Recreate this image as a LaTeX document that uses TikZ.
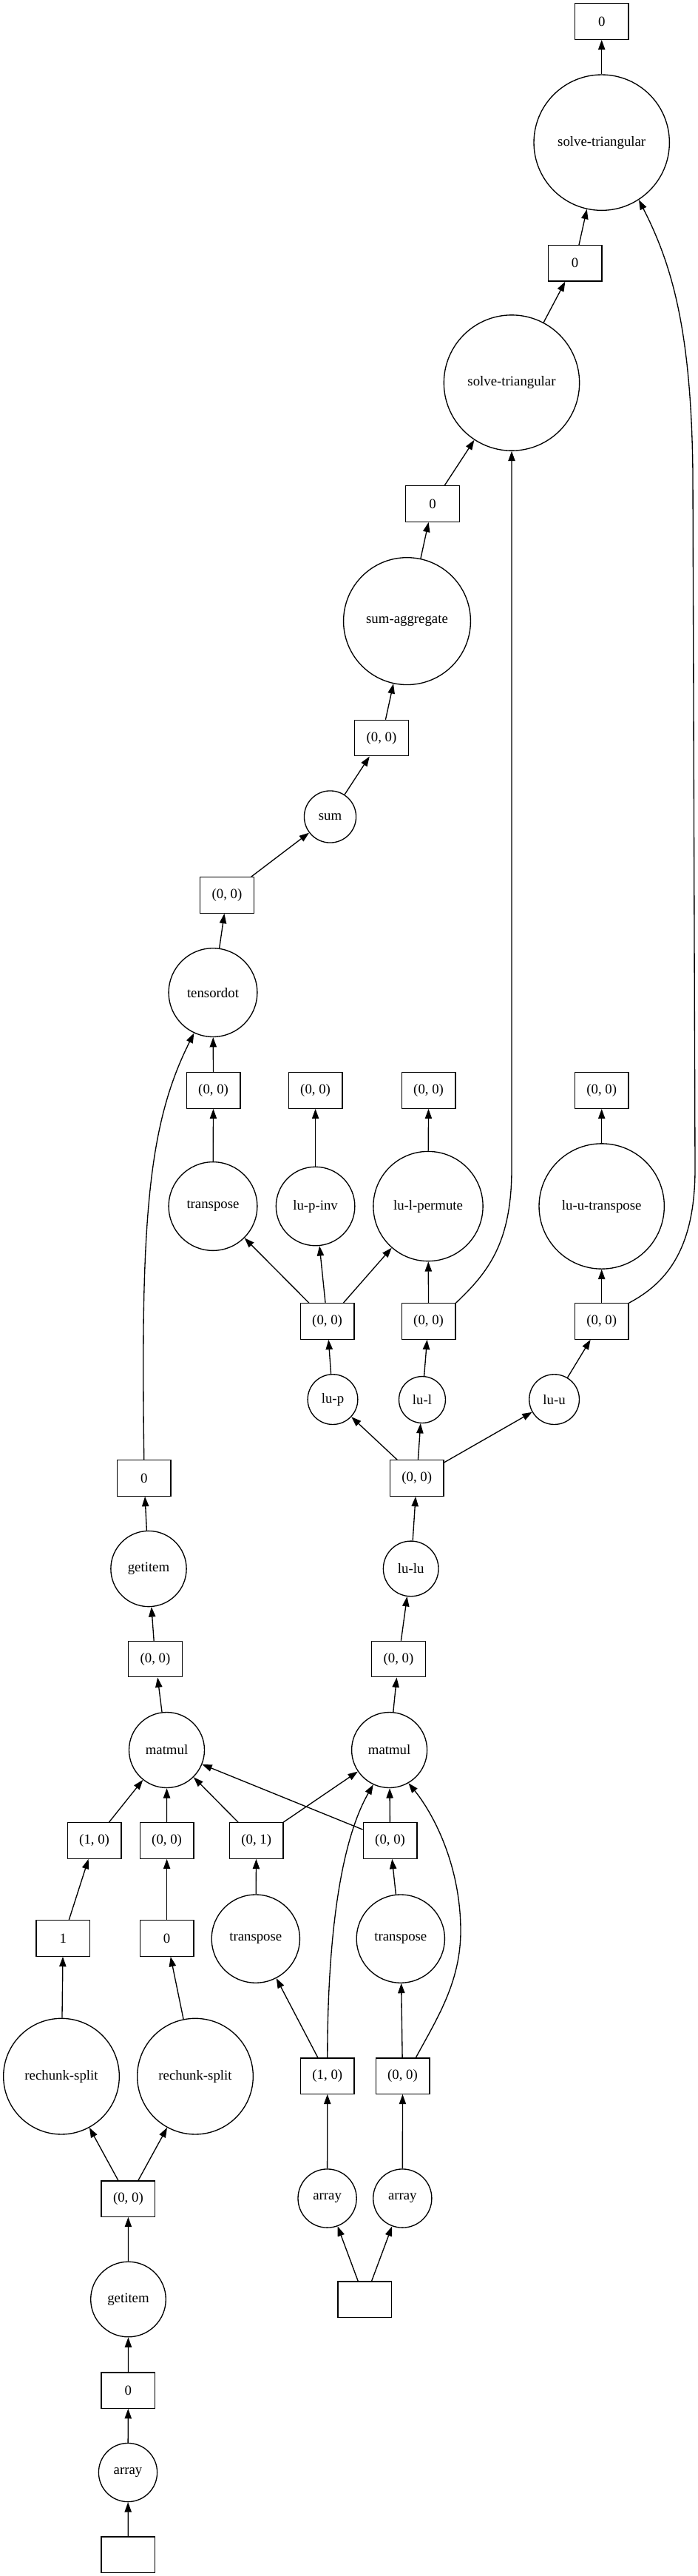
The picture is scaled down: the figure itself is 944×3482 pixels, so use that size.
\documentclass[tikz,border=0pt]{standalone}
\usepackage{fontspec}
\setmainfont{Liberation Serif}
\usetikzlibrary{arrows.meta}
\begin{document}
\begin{tikzpicture}[x=0.75pt,y=-0.75pt,
  box/.style={draw,rectangle,minimum width=54.5pt,minimum height=36.3pt,inner sep=0pt,line width=1pt,font=\fontsize{14.1pt}{17pt}\selectfont},
  op/.style={draw,circle,minimum size=#1,inner sep=0pt,line width=1pt,font=\fontsize{14.1pt}{17pt}\selectfont},
  edgearrow/.style={-{Triangle[length=10pt,width=7pt]},line width=1pt}]
\useasboundingbox (0,0) rectangle (944,3482);
% nodes
\node[box] (top0) at (813.7,29) {0};
\node[op=137.5pt] (st1) at (813.7,192.7) {solve-triangular};
\node[box] (b2) at (777.5,355.8) {0};
\node[op=137.5pt] (st2) at (692,517.5) {solve-triangular};
\node[box] (b3) at (585,681) {0};
\node[op=128.9pt] (sa) at (550.5,839.6) {sum-aggregate};
\node[box] (b4) at (516,997.6) {(0, 0)};
\node[op=52.6pt] (sum) at (446.5,1104) {sum};
\node[box] (b5) at (307,1210) {(0, 0)};
\node[op=89.8pt] (td) at (288,1341.6) {tensordot};
\node[box] (b6) at (288.6,1474) {(0, 0)};
\node[box] (b7) at (426.6,1474) {(0, 0)};
\node[box] (b8) at (579.6,1474) {(0, 0)};
\node[box] (b9) at (813.7,1474) {(0, 0)};
\node[op=89.8pt] (tr1) at (288,1630.5) {transpose};
\node[op=79.9pt] (lupinv) at (426.6,1630.5) {lu-p-inv};
\node[op=111.2pt] (lulperm) at (579,1630.5) {lu-l-permute};
\node[op=127pt] (lutrans) at (813.7,1630.5) {lu-u-transpose};
\node[box] (b10) at (442.6,1786) {(0, 0)};
\node[box] (b11) at (579.6,1786) {(0, 0)};
\node[box] (b12) at (813.7,1786) {(0, 0)};
\node[op=50.8pt] (lup) at (450,1891.6) {lu-p};
\node[op=47.2pt] (lul) at (571,1892) {lu-l};
\node[op=50.8pt] (luu) at (749.6,1891.6) {lu-u};
\node[box] (b13) at (563.7,1998) {(0, 0)};
\node[box] (b14) at (194.8,1998) {0};
\node[op=76.7pt] (gi1) at (201,2120.5) {getitem};
\node[op=56pt] (lulu) at (555.7,2120.4) {lu-lu};
\node[box] (b15) at (210,2242.6) {(0, 0)};
\node[box] (b16) at (539,2242.6) {(0, 0)};
\node[op=76.5pt] (mm1) at (225.5,2365.5) {matmul};
\node[op=76.5pt] (mm2) at (526.6,2365.5) {matmul};
\node[box] (b17) at (127.6,2488) {(1, 0)};
\node[box] (b18) at (225.6,2488) {(0, 0)};
\node[box] (b19) at (346.7,2488) {(0, 1)};
\node[box] (b20) at (527.6,2488) {(0, 0)};
\node[box] (b21) at (85.3,2620) {1};
\node[box] (b22) at (225.6,2620) {0};
\node[op=89.4pt] (tr2) at (345.8,2620.6) {transpose};
\node[op=89.4pt] (tr3) at (541.8,2620.6) {transpose};
\node[op=117.5pt] (rs1) at (83,2806.6) {rechunk-split};
\node[op=117.5pt] (rs2) at (264,2806.6) {rechunk-split};
\node[box] (b23) at (442.8,2806) {(1, 0)};
\node[box] (b24) at (544.5,2806) {(0, 0)};
\node[box] (b25) at (173.4,2972) {(0, 0)};
\node[op=59.4pt] (ar1) at (442.6,2971.5) {array};
\node[op=59.4pt] (ar2) at (544.3,2971.5) {array};
\node[op=76.2pt] (gi2) at (173.5,3108) {getitem};
\node[box] (b26) at (493.4,3108) {};
\node[box] (b27) at (173.4,3231) {0};
\node[op=59.4pt] (ar3) at (173,3342) {array};
\node[box] (b28) at (173.4,3453) {};
% edges
\draw[edgearrow] (st1) -- (top0);
\draw[edgearrow] (b2) -- (st1);
\draw[edgearrow] (st2) -- (b2);
\draw[edgearrow] (b3) -- (st2);
\draw[edgearrow] (sa) -- (b3);
\draw[edgearrow] (b4) -- (sa);
\draw[edgearrow] (sum) -- (b4);
\draw[edgearrow] (b5) -- (sum);
\draw[edgearrow] (td) -- (b5);
\draw[edgearrow] (b6) -- (td);
\draw[edgearrow] (b14.north) .. controls (190,1650) and (200,1520) .. (td.245);
\draw[edgearrow] (tr1) -- (b6);
\draw[edgearrow] (lupinv) -- (b7);
\draw[edgearrow] (lulperm) -- (b8);
\draw[edgearrow] (lutrans) -- (b9);
\draw[edgearrow] (b10) -- (tr1);
\draw[edgearrow] (b10) -- (lupinv);
\draw[edgearrow] (b10) -- (lulperm);
\draw[edgearrow] (b11) -- (lulperm);
\draw[edgearrow] (b11.north east) .. controls (660,1720) and (692,1680) .. (692,1580) -- (st2.south);
\draw[edgearrow] (b12) -- (lutrans);
\draw[edgearrow] (b12.north east) .. controls (900,1735) and (940,1690) .. (940,1580) -- (937,640) .. controls (935,450) and (910,360) .. (st1.-57);
\draw[edgearrow] (lup) -- (b10);
\draw[edgearrow] (lul) -- (b11);
\draw[edgearrow] (luu) -- (b12);
\draw[edgearrow] (b13) -- (lup);
\draw[edgearrow] (b13) -- (lul);
\draw[edgearrow] (b13) -- (luu);
\draw[edgearrow] (lulu) -- (b13);
\draw[edgearrow] (b16) -- (lulu);
\draw[edgearrow] (mm2) -- (b16);
\draw[edgearrow] (gi1) -- (b14);
\draw[edgearrow] (b15) -- (gi1);
\draw[edgearrow] (mm1) -- (b15);
\draw[edgearrow] (b17) -- (mm1);
\draw[edgearrow] (b18) -- (mm1);
\draw[edgearrow] (b19) -- (mm1);
\draw[edgearrow] (b20) -- (mm1);
\draw[edgearrow] (b19) -- (mm2);
\draw[edgearrow] (b20) -- (mm2);
\draw[edgearrow] (b23.north) .. controls (443,2620) and (460,2490) .. (mm2.245);
\draw[edgearrow] ([xshift=13.5pt]b24.north) .. controls (590,2730) and (623,2680) .. (623,2610) .. controls (623,2520) and (585,2450) .. (mm2.300);
\draw[edgearrow] (b21) -- (b17);
\draw[edgearrow] (b22) -- (b18);
\draw[edgearrow] (tr2) -- (b19);
\draw[edgearrow] (tr3) -- (b20);
\draw[edgearrow] (rs1) -- (b21);
\draw[edgearrow] (rs2) -- (b22);
\draw[edgearrow] (b25) -- (rs1);
\draw[edgearrow] (b25) -- (rs2);
\draw[edgearrow] (b23) -- (tr2);
\draw[edgearrow] (b24) -- (tr3);
\draw[edgearrow] (ar1) -- (b23);
\draw[edgearrow] (ar2) -- (b24);
\draw[edgearrow] (b26) -- (ar1);
\draw[edgearrow] (b26) -- (ar2);
\draw[edgearrow] (gi2) -- (b25);
\draw[edgearrow] (b27) -- (gi2);
\draw[edgearrow] (ar3) -- (b27);
\draw[edgearrow] (b28) -- (ar3);
\end{tikzpicture}
\end{document}
